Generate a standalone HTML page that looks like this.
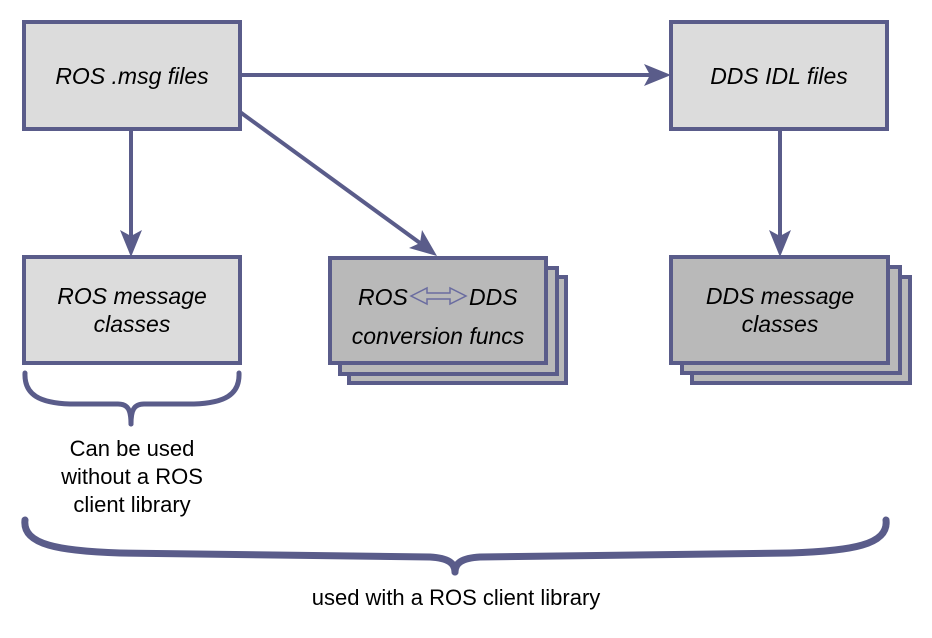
<!DOCTYPE html>
<html><head><meta charset="utf-8"><style>
html,body{margin:0;padding:0;background:#fff;}
svg{display:block;}
text{font-family:"Liberation Sans",Arial,sans-serif;fill:#000;}
.it{font-style:italic;font-size:23px;}
.rg{font-size:22px;}
</style></head><body>
<svg width="932" height="638" viewBox="0 0 932 638" xmlns="http://www.w3.org/2000/svg">
<g stroke="#5a5c8a" stroke-width="4">
<rect x="24" y="22" width="216" height="107" fill="#dcdcdc"/>
<rect x="671" y="22" width="216" height="107" fill="#dcdcdc"/>
<rect x="24" y="257" width="216" height="106" fill="#dcdcdc"/>
<rect x="349" y="277" width="217" height="106" fill="#b9b9b9"/>
<rect x="340" y="268" width="217" height="106" fill="#b9b9b9"/>
<rect x="330" y="258" width="216" height="105" fill="#b9b9b9"/>
<rect x="692" y="277" width="218" height="106" fill="#b9b9b9"/>
<rect x="682" y="267" width="218" height="106" fill="#b9b9b9"/>
<rect x="671" y="257" width="217" height="106" fill="#b9b9b9"/>
<line x1="240" y1="75" x2="650" y2="75"/>
<line x1="131" y1="129" x2="131" y2="236"/>
<line x1="780" y1="129" x2="780" y2="236"/>
<line x1="240" y1="112" x2="420" y2="243"/>
</g>
<g fill="#5a5c8a">
<polygon points="671,75 644,64 650,75 644,86"/>
<polygon points="131,257 120,230 131,236 142,230"/>
<polygon points="780,257 769,230 780,236 791,230"/>
<polygon points="437,256 409,248 420,243 422,230"/>
</g>
<g fill="none" stroke="#5a5c8a" stroke-linecap="round">
<path d="M25,373 C24,395 40,403 70,404 L118,404 C128,404 131,410 131,424" stroke-width="5"/>
<path d="M239,373 C240,395 224,403 194,404 L144,404 C134,404 131,410 131,424" stroke-width="5"/>
<path d="M25,520 C22,545 60,551 120,553 L430,557 C448,558 455,563 455,572" stroke-width="7"/>
<path d="M886,520 C889,545 851,551 790,553 L480,557 C462,558 455,563 455,572" stroke-width="7"/>
</g>
<polygon points="411,296 427,288 427,293 450,293 450,288 466,296 450,304 450,299 427,299 427,304" fill="none" stroke="#6a6ca0" stroke-width="1.5"/>
<text class="it" x="132" y="84" text-anchor="middle">ROS .msg files</text>
<text class="it" x="779" y="84" text-anchor="middle">DDS IDL files</text>
<text class="it" x="132" y="304" text-anchor="middle">ROS message</text>
<text class="it" x="132" y="332" text-anchor="middle">classes</text>
<text class="it" x="358" y="305">ROS</text>
<text class="it" x="469" y="305">DDS</text>
<text class="it" x="438" y="344" text-anchor="middle">conversion funcs</text>
<text class="it" x="780" y="304" text-anchor="middle">DDS message</text>
<text class="it" x="780" y="332" text-anchor="middle">classes</text>
<text class="rg" x="132" y="456" text-anchor="middle">Can be used</text>
<text class="rg" x="132" y="484" text-anchor="middle">without a ROS</text>
<text class="rg" x="132" y="512" text-anchor="middle">client library</text>
<text class="rg" x="456" y="605" text-anchor="middle">used with a ROS client library</text>
</svg>
</body></html>
